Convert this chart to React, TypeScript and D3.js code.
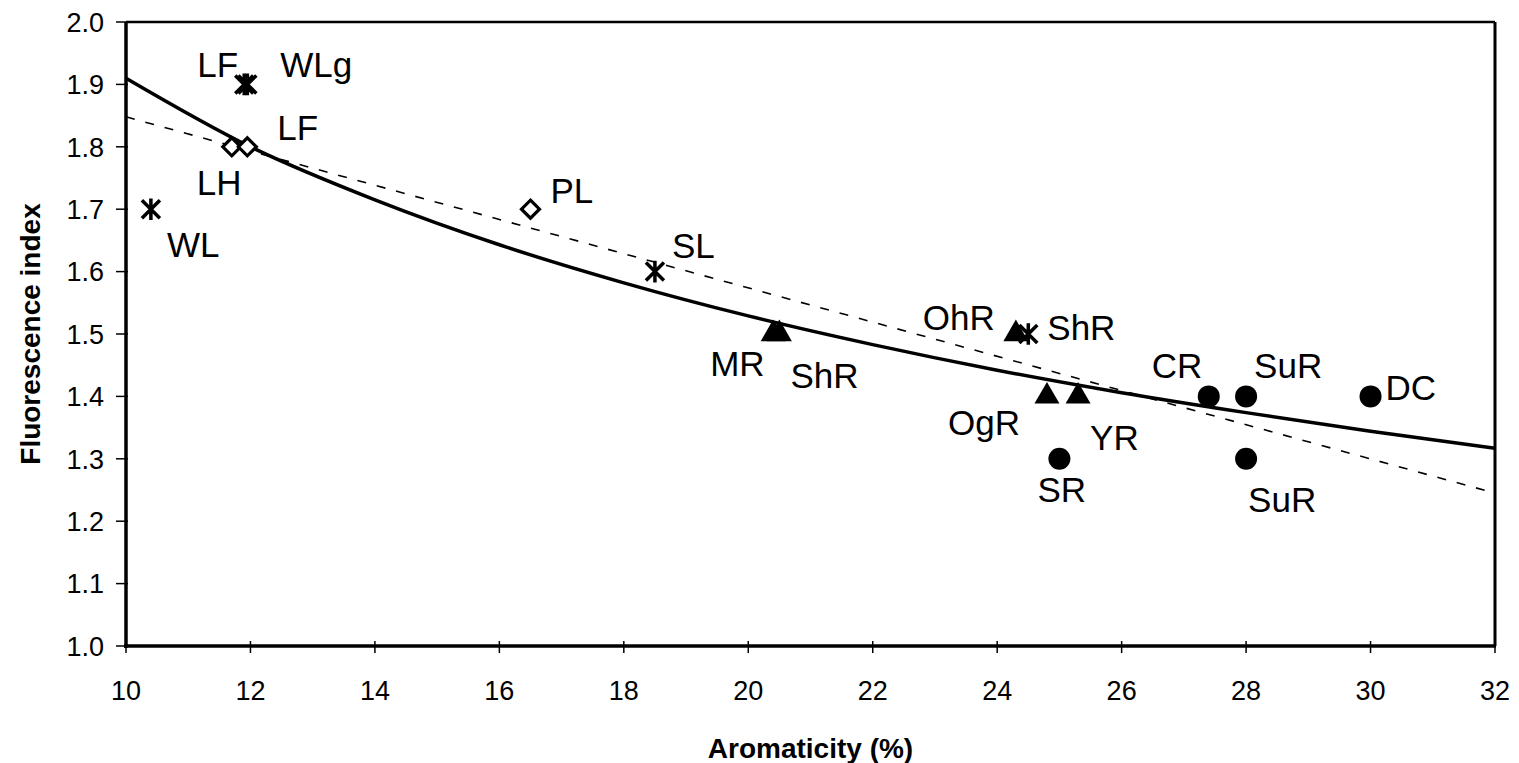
import * as d3 from "d3";

// axis ticks
const xTicks = [10, 12, 14, 16, 18, 20, 22, 24, 26, 28, 30, 32];
const yTicks = [1.0, 1.1, 1.2, 1.3, 1.4, 1.5, 1.6, 1.7, 1.8, 1.9, 2.0];

// solid fitted curve, read at each x tick
const fitX = [10, 12, 14, 16, 18, 20, 22, 24, 26, 28, 30, 32];
const fitY = [1.91, 1.8, 1.715, 1.643, 1.582, 1.529, 1.483, 1.442, 1.406, 1.374, 1.344, 1.317];

// dashed linear trend (end points)
const trendX = [10, 32];
const trendY = [1.848, 1.245];

// samples, one array per marker type
const starNames = ["WL", "LF", "WLg", "SL", "ShR"];
const starX = [10.4, 11.9, 11.95, 18.5, 24.5];
const starY = [1.7, 1.9, 1.9, 1.6, 1.5];

const diamondNames = ["LH", "LF", "PL"];
const diamondX = [11.7, 11.95, 16.5];
const diamondY = [1.8, 1.8, 1.7];

const triangleNames = ["MR", "ShR", "OhR", "OgR", "YR"];
const triangleX = [20.4, 20.5, 24.3, 24.8, 25.3];
const triangleY = [1.5, 1.5, 1.5, 1.4, 1.4];

const circleNames = ["SR", "CR", "SuR", "SuR", "DC"];
const circleX = [25, 27.4, 28, 28, 30];
const circleY = [1.3, 1.4, 1.4, 1.3, 1.4];

// label offsets from the marker (px), same order as the arrays above
const starLabelOff = [[16, 48], [-47, -7], [33, -7], [17, -14], [19, 6]];
const diamondLabelOff = [[-35, 48], [30, -7], [20, -6]];
const triangleLabelOff = [[-63, 42], [11, 54], [-93, -4], [-99, 39], [12, 54]];
const circleLabelOff = [[-22, 43], [-57, -18], [8, -18], [2, 53], [15, 4]];

const width = 1519;
const height = 763;
const x0 = 126, x1 = 1495, y0 = 646, y1 = 22;
const font = "'Liberation Sans', Arial, sans-serif";

const x = d3.scaleLinear().domain([10, 32]).range([x0, x1]);
const y = d3.scaleLinear().domain([1, 2]).range([y0, y1]);

const starPath = (s: number) =>
  `M${-s},${-s}L${s},${s}M${-s},${s}L${s},${-s}M0,${-s * 1.2}L0,${s * 1.2}`;
const diamondPath = (s: number) => `M0,${-s}L${s},0L0,${s}L${-s},0Z`;
const trianglePath = d3.symbol().type(d3.symbolTriangle).size(270)();

export default function App() {
  const fitLine = d3.line<number>()
    .x((d, i) => x(fitX[i]))
    .y(d => y(d))
    .curve(d3.curveMonotoneX);
  const trendLine = d3.line<number>()
    .x((d, i) => x(trendX[i]))
    .y(d => y(d));

  const label = (name: string, px: number, py: number, off: number[], key: string) => (
    <text key={key} x={px + off[0]} y={py + off[1]} fontSize={35} fontFamily={font} fill="#000">
      {name}
    </text>
  );

  return (
    <div>
      <style>{`body{margin:0}`}</style>
      <svg width={width} height={height} style={{ display: "block", background: "#fff" }}>
        {/* frame */}
        <line x1={x0} x2={x1} y1={y1} y2={y1} stroke="#000" strokeWidth={2.5} />
        <line x1={x1} x2={x1} y1={y1} y2={y0} stroke="#000" strokeWidth={3} />
        <line x1={x0} x2={x0} y1={y1} y2={y0 + 2} stroke="#000" strokeWidth={3.5} />
        <line x1={x0 - 2} x2={x1 + 1} y1={y0} y2={y0} stroke="#000" strokeWidth={3.5} />

        {/* y axis */}
        {yTicks.map(t => (
          <g key={"y" + t}>
            <line x1={x0 - 10} x2={x0 + 2} y1={y(t)} y2={y(t)} stroke="#000" strokeWidth={1.5} />
            <text x={104} y={y(t)} dy="0.36em" textAnchor="end" fontSize={27} fontFamily={font} fill="#000">
              {t.toFixed(1)}
            </text>
          </g>
        ))}
        {/* x axis */}
        {xTicks.map(t => (
          <g key={"x" + t}>
            <line x1={x(t)} x2={x(t)} y1={y0 - 5} y2={y0 + 7} stroke="#000" strokeWidth={1.5} />
            <text x={x(t)} y={700} textAnchor="middle" fontSize={27} fontFamily={font} fill="#000">
              {t}
            </text>
          </g>
        ))}

        <text x={(x0 + x1) / 2} y={758} textAnchor="middle" fontSize={28} fontWeight="bold" fontFamily={font} fill="#000">
          Aromaticity (%)
        </text>
        <text
          transform={`translate(40,${(y0 + y1) / 2}) rotate(-90)`}
          textAnchor="middle"
          fontSize={28}
          fontWeight="bold"
          fontFamily={font}
          fill="#000"
        >
          Fluorescence index
        </text>

        {/* trend lines */}
        <path d={trendLine(trendY) || ""} fill="none" stroke="#000" strokeWidth={1.6} strokeDasharray="9 11" />
        <path d={fitLine(fitY) || ""} fill="none" stroke="#000" strokeWidth={3.5} />

        {/* markers */}
        {triangleX.map((v, i) => (
          <path key={"t" + i} d={trianglePath || ""} transform={`translate(${x(v)},${y(triangleY[i])})`} fill="#000" />
        ))}
        {starX.map((v, i) => (
          <path key={"s" + i} d={starPath(9)} transform={`translate(${x(v)},${y(starY[i])})`} fill="none" stroke="#000" strokeWidth={3.5} />
        ))}
        {diamondX.map((v, i) => (
          <path key={"d" + i} d={diamondPath(9)} transform={`translate(${x(v)},${y(diamondY[i])})`} fill="#fff" stroke="#000" strokeWidth={3.2} />
        ))}
        {circleX.map((v, i) => (
          <circle key={"c" + i} cx={x(v)} cy={y(circleY[i])} r={11} fill="#000" />
        ))}

        {/* labels */}
        {starNames.map((n, i) => label(n, x(starX[i]), y(starY[i]), starLabelOff[i], "sl" + i))}
        {diamondNames.map((n, i) => label(n, x(diamondX[i]), y(diamondY[i]), diamondLabelOff[i], "dl" + i))}
        {triangleNames.map((n, i) => label(n, x(triangleX[i]), y(triangleY[i]), triangleLabelOff[i], "tl" + i))}
        {circleNames.map((n, i) => label(n, x(circleX[i]), y(circleY[i]), circleLabelOff[i], "cl" + i))}
      </svg>
    </div>
  );
}
